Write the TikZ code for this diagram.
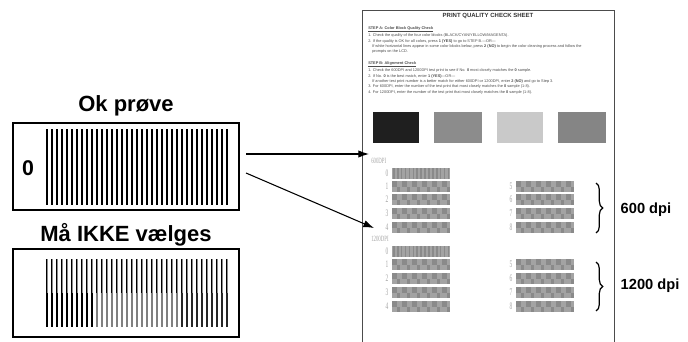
\documentclass[tikz,border=0pt]{standalone}
\usepackage{fontspec}
\setmainfont{Liberation Sans}
\newfontfamily\sheetserif{Liberation Serif}
\usetikzlibrary{arrows.meta,decorations.pathreplacing}

\begin{document}
\begin{tikzpicture}[x=0.75pt,y=-0.75pt,
  heading/.style={font=\fontsize{16.5}{18}\selectfont\bfseries},
  dpilabel/.style={font=\fontsize{11}{13}\selectfont\bfseries, anchor=west},
  sheettext/.style={font=\fontsize{2.9}{4}\selectfont, text=black!70, anchor=north west, align=left, inner sep=0pt},
  dpitag/.style={font=\sheetserif\fontsize{6}{6}\selectfont, text=black!35, inner sep=0pt},
  rowdigit/.style={font=\sheetserif\fontsize{7.5}{8}\selectfont, text=black!35, inner sep=0pt},
  pointer/.style={-{Latex[length=8pt,width=5.5pt]}, line width=0.8pt},
  frame/.style={line width=1.6pt},
  patch/.style={fill=black!36},
  speck/.style={fill=black!46},
  bracket/.style={decorate, decoration={brace, amplitude=5pt}, line width=0.9pt}]
  \useasboundingbox (0,0) rectangle (688,342);

  % Left: the two sample boxes
  \node[heading] (okname) at (126,106) {Ok prøve};
  \draw[frame] (13,123) rectangle (239,210);
  \node[font=\fontsize{16}{18}\selectfont\bfseries] (zero) at (28,168) {0};
  \foreach \i in {0,...,36}
    \fill (46+\i*5,129) rectangle ++(2,76);

  \node[heading] (badname) at (126,235) {Må IKKE vælges};
  \draw[frame] (13,249) rectangle (239,337);
  \foreach \i in {0,...,36} {
    \fill (46+\i*5,259) rectangle ++(1,34);
    \fill[black!45] (47+\i*5,259) rectangle ++(1,34);
  }
  \foreach \i in {0,...,9}
    \fill (46+\i*5,293) rectangle ++(2,34);
  \foreach \i in {10,...,26}
    \fill[black!50] (46+\i*5,293) rectangle ++(2,34);
  \foreach \i in {27,...,36}
    \fill[black!85] (46+\i*5,293) rectangle ++(2,34);

  % Right: the check sheet
  \draw[black!70, line width=0.6pt] (362,342) -- (362,10) -- (614,10) -- (614,342);
  \node[font=\fontsize{4.5}{5}\selectfont\bfseries, text=black!80] (title) at (488,16) {PRINT QUALITY CHECK SHEET};

  \node[sheettext] (stepA) at (368,26) {%
    {\bfseries\underline{STEP A: Color Block Quality Check}}\\
    1. Check the quality of the four color blocks (BLACK/CYAN/YELLOW/MAGENTA).\\
    2. If the quality is OK for all colors, press {\bfseries 1 (YES)} to go to STEP B.---OR---\\
    \hspace*{3pt}If white horizontal lines appear in some color blocks below, press {\bfseries 2 (NO)} to begin the color cleaning process and follow the\\
    \hspace*{3pt}prompts on the LCD.};
  \node[sheettext] (stepB) at (368,61) {%
    {\bfseries\underline{STEP B: Alignment Check}}\\
    1. Check the 600DPI and 1200DPI test print to see if No. {\bfseries 0} most closely matches the {\bfseries 0} sample.\\
    2. If No. {\bfseries 0} is the best match, enter {\bfseries 1 (YES)}---OR---\\
    \hspace*{3pt}If another test print number is a better match for either 600DPI or 1200DPI, enter {\bfseries 2 (NO)} and go to Step 3.\\
    3. For 600DPI, enter the number of the test print that most closely matches the {\bfseries 0} sample (1-8).\\
    4. For 1200DPI, enter the number of the test print that most closely matches the {\bfseries 0} sample (1-8).};

  % Color blocks
  \fill[black!88] (373,112) rectangle (419,143);
  \fill[black!45] (434,112) rectangle (482,143);
  \fill[black!21] (497,112) rectangle (543,143);
  \fill[black!48] (558,112) rectangle (606,143);

  % Alignment test prints
  \node[dpitag, anchor=west] (tag600) at (371,161) {\scalebox{0.6}[1]{600DPI}};
  \node[dpitag, anchor=west] (tag1200) at (371,239) {\scalebox{0.6}[1]{1200DPI}};
  \foreach \n/\x/\t in {0/392/168, 1/392/181, 2/392/194, 3/392/208, 4/392/222,
                        5/516/181, 6/516/194, 7/516/208, 8/516/222,
                        0/392/246, 1/392/259, 2/392/273, 3/392/287, 4/392/301,
                        5/516/259, 6/516/273, 7/516/287, 8/516/301} {
    \node[rowdigit] (row\n-\t) at (\x-5,\t+5.5) {\scalebox{0.55}[1]{\n}};
    \fill[patch] (\x,\t) rectangle ++(58,11);
    \ifnum\n=0
      \foreach \k in {0,...,14}
        \fill[speck] (\x+1+\k*3.9,\t) rectangle ++(1.6,11);
    \else
      \foreach \k in {0,...,5} {
        \fill[speck] (\x+\k*10,\t) rectangle ++(5,5.5);
        \fill[speck] (\x+\k*10+5,\t+5.5) rectangle ++(3,5.5);
      }
    \fi
  }

  % Braces and their labels
  \coordinate (b600top) at (596,183);
  \coordinate (b600bot) at (596,233);
  \coordinate (b1200top) at (596,262);
  \coordinate (b1200bot) at (596,311);
  \draw[bracket] (b600top) -- (b600bot);
  \draw[bracket] (b1200top) -- (b1200bot);
  \node[dpilabel] (lab600) at (616,210) {600 dpi};
  \node[dpilabel] (lab1200) at (616,286) {1200 dpi};

  % Arrows from the good sample to the sheet
  \coordinate (okA) at (246,154);
  \coordinate (okB) at (246,173);
  \coordinate (tip600) at (369,154);
  \coordinate (tip1200) at (374,228);
  \draw[pointer] (okA) -- (tip600);
  \draw[pointer] (okB) -- (tip1200);
\end{tikzpicture}
\end{document}
